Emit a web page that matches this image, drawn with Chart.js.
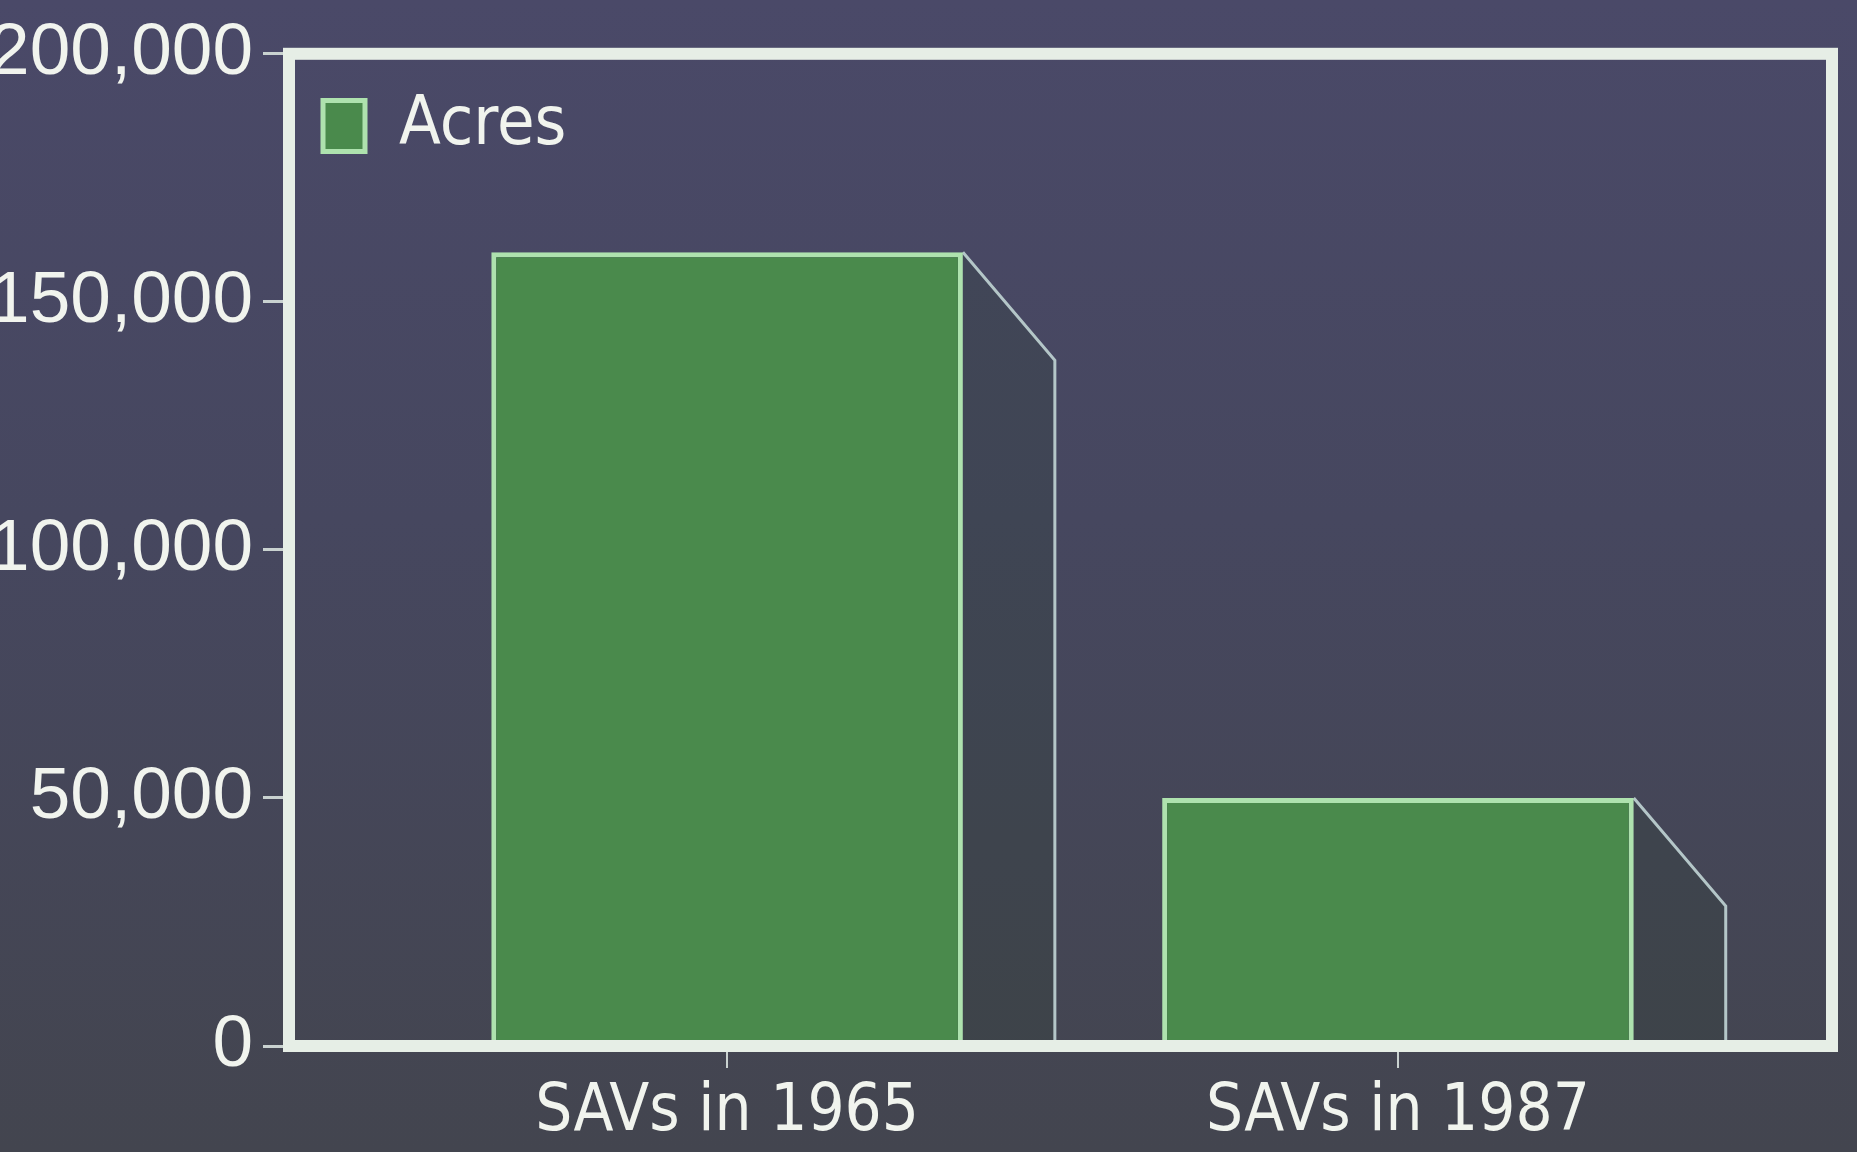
<!DOCTYPE html>
<html>
<head>
<meta charset="utf-8">
<title>SAVs acres</title>
<script src="https://cdn.jsdelivr.net/npm/chart.js@4.4.1/dist/chart.umd.min.js"></script>
<style>
  html, body { margin: 0; padding: 0; }
  body {
    width: 1857px; height: 1152px; overflow: hidden;
    background: linear-gradient(180deg, #4a4968 0%, #46475f 45%, #43454f 100%);
  }
  #wrap { width: 1857px; height: 1152px; }
</style>
</head>
<body>
<div id="wrap"><canvas id="savChart" width="1857" height="1152"></canvas></div>
<script>
const categories = ['SAVs in 1965', 'SAVs in 1987'];
const acres = [160000, 50000];
const yTicks = [0, 50000, 100000, 150000, 200000];
const seriesLabel = 'Acres';

const textColor = '#f1f4ee';
const tickColor = '#c9d2d0';
const narrow = "'Liberation Sans Narrow', 'DejaVu Sans Condensed', 'Liberation Sans', sans-serif";

// side face of each bar, drawn behind the front face
const depthPlugin = {
    id: 'depth',
    beforeDatasetsDraw(chart) {
        const { ctx } = chart;
        const meta = chart.getDatasetMeta(0);
        ctx.save();
        meta.data.forEach(bar => {
            const p = bar.getProps(['x', 'y', 'base', 'width'], true);
            const right = p.x + p.width / 2;
            const dx = p.width * 0.195;
            const dy = 108;
            ctx.beginPath();
            ctx.moveTo(right, p.y);
            ctx.lineTo(right + dx, p.y + dy);
            ctx.lineTo(right + dx, p.base);
            ctx.lineTo(right, p.base);
            ctx.closePath();
            ctx.fillStyle = 'rgba(40, 62, 44, 0.22)';
            ctx.fill();
            ctx.beginPath();
            ctx.moveTo(right, p.y);
            ctx.lineTo(right + dx, p.y + dy);
            ctx.lineTo(right + dx, p.base);
            ctx.strokeStyle = '#b4c6c8';
            ctx.lineWidth = 3;
            ctx.stroke();
        });
        ctx.restore();
    }
};

// heavy white frame around the plot area
const framePlugin = {
    id: 'frame',
    afterDatasetsDraw(chart) {
        const { ctx, chartArea: a } = chart;
        ctx.save();
        ctx.strokeStyle = '#e6eee6';
        ctx.lineWidth = 12;
        ctx.strokeRect(a.left, a.top, a.right - a.left, a.bottom - a.top);
        ctx.restore();
    }
};

const ctx = document.getElementById('savChart').getContext('2d');

new Chart(ctx, {
    type: 'bar',
    data: {
        datasets: [{
            label: seriesLabel,
            data: acres.map((v, i) => ({ x: i, y: v })),
            backgroundColor: '#4a8a4c',
            borderColor: '#aee2ae',
            borderWidth: 5,
            borderSkipped: 'bottom',
            barPercentage: 0.703,
            categoryPercentage: 1
        }]
    },
    options: {
        responsive: false,
        animation: false,
        events: [],
        layout: { padding: { top: 50, right: 25, left: 0, bottom: 0 } },
        plugins: {
            legend: {
                position: 'chartArea',
                align: 'start',
                // empty title only pushes the legend row down inside the frame
                title: { display: true, text: '', font: { size: 10 }, padding: { top: 46, bottom: 0 } },
                labels: {
                    color: textColor,
                    boxWidth: 42,
                    boxHeight: 51,
                    padding: 34,
                    font: { family: narrow, size: 68 }
                }
            },
            tooltip: { enabled: false }
        },
        scales: {
            x: {
                type: 'linear',
                min: -0.653,
                max: 1.647,
                offset: false,
                afterBuildTicks: s => { s.ticks = categories.map((c, i) => ({ value: i })); },
                afterFit: s => { s.height = 106; },
                ticks: {
                    callback: v => categories[v],
                    color: textColor,
                    autoSkip: false,
                    maxRotation: 0,
                    padding: 6,
                    font: { family: narrow, size: 65 }
                },
                grid: { offset: false, drawOnChartArea: false, drawTicks: true, tickLength: 22, color: tickColor, lineWidth: 2 },
                border: { display: false }
            },
            y: {
                min: 0,
                max: 200000,
                afterBuildTicks: s => { s.ticks = yTicks.map(v => ({ value: v })); },
                afterFit: s => { s.width = 289; },
                ticks: {
                    color: textColor,
                    padding: 10,
                    callback: v => v.toLocaleString('en-US'),
                    font: { family: "'Liberation Sans', Arial, sans-serif", size: 73 }
                },
                grid: { drawOnChartArea: false, drawTicks: true, tickLength: 26, color: tickColor, lineWidth: 3 },
                border: { display: false }
            }
        }
    },
    plugins: [depthPlugin, framePlugin]
});
</script>
</body>
</html>
